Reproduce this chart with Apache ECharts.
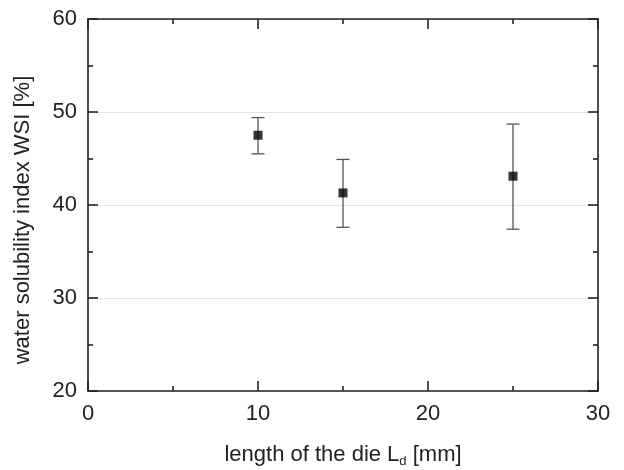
<!DOCTYPE html>
<html>
<head>
<meta charset="utf-8">
<script src="https://cdn.jsdelivr.net/npm/echarts@6/dist/echarts.min.js"></script>
<style>
  html, body { margin: 0; padding: 0; background: #fff; }
  #chart { width: 624px; height: 470px; }
</style>
</head>
<body>
<div id="chart"></div>
<script>
// die length [mm], WSI mean and error bar ends [%]
var dieLength = [10, 15, 25];
var wsiMean = [47.5, 41.3, 43.1];
var wsiLow = [45.5, 37.6, 37.4];
var wsiHigh = [49.4, 44.9, 48.7];

var chart = echarts.init(document.getElementById('chart'));
var font = 'Liberation Sans, Arial, sans-serif';

var points = dieLength.map(function (x, i) { return [x, wsiMean[i]]; });
var bars = dieLength.map(function (x, i) { return [x, wsiLow[i], wsiHigh[i]]; });

var tickStyle = {inside: true, length: 10, lineStyle: {color: '#222', width: 1.6}};
var minorStyle = {show: true, splitNumber: 2, length: 5, lineStyle: {color: '#222', width: 1.6}};

var option = {
  backgroundColor: '#fff',
  animation: false,
  grid: {left: 88, right: 26, top: 19, bottom: 79, outerBoundsMode: 'none'},
  xAxis: [{
    type: 'value', min: 0, max: 30, interval: 10,
    name: 'length of the die L{sub|d} [mm]',
    nameLocation: 'middle', nameGap: 50,
    nameTextStyle: {fontFamily: font, fontSize: 22, color: '#222',
      rich: {sub: {fontFamily: font, fontSize: 13, color: '#222', padding: [14, 0, 0, 0]}}},
    axisLine: {show: true, onZero: false, lineStyle: {color: '#222', width: 1.6}},
    axisTick: tickStyle, minorTick: minorStyle,
    axisLabel: {fontFamily: font, fontSize: 22, color: '#222', margin: 12},
    splitLine: {show: false}
  }, {
    type: 'value', min: 0, max: 30, interval: 10, position: 'top',
    axisLine: {show: true, onZero: false, lineStyle: {color: '#222', width: 1.6}},
    axisTick: tickStyle, minorTick: minorStyle,
    axisLabel: {show: false}, splitLine: {show: false}
  }],
  yAxis: [{
    type: 'value', min: 20, max: 60, interval: 10,
    name: 'water solubility index WSI [%]',
    nameLocation: 'middle', nameGap: 54,
    nameTextStyle: {fontFamily: font, fontSize: 22, color: '#222', padding: [0, 30, 0, 0]},
    axisLine: {show: true, onZero: false, lineStyle: {color: '#222', width: 1.6}},
    axisTick: tickStyle, minorTick: minorStyle,
    axisLabel: {fontFamily: font, fontSize: 22, color: '#222', margin: 11},
    splitLine: {show: true, lineStyle: {color: '#e4e4e4', width: 1}}
  }, {
    type: 'value', min: 20, max: 60, interval: 10, position: 'right',
    axisLine: {show: true, onZero: false, lineStyle: {color: '#222', width: 1.6}},
    axisTick: tickStyle, minorTick: minorStyle,
    axisLabel: {show: false}, splitLine: {show: false}
  }],
  series: [{
    type: 'custom',
    data: bars,
    renderItem: function (params, api) {
      var top = api.coord([api.value(0), api.value(2)]);
      var bot = api.coord([api.value(0), api.value(1)]);
      var w = 6.5;
      var style = {stroke: '#555', lineWidth: 1.3};
      return {
        type: 'group',
        children: [
          {type: 'line', shape: {x1: top[0], y1: top[1], x2: bot[0], y2: bot[1]}, style: style},
          {type: 'line', shape: {x1: top[0] - w, y1: top[1], x2: top[0] + w, y2: top[1]}, style: style},
          {type: 'line', shape: {x1: bot[0] - w, y1: bot[1], x2: bot[0] + w, y2: bot[1]}, style: style}
        ]
      };
    },
    z: 2
  }, {
    type: 'scatter',
    data: points,
    symbol: 'rect',
    symbolSize: 9,
    itemStyle: {color: '#000'},
    z: 3
  }]
};
chart.setOption(option);
</script>
</body>
</html>
